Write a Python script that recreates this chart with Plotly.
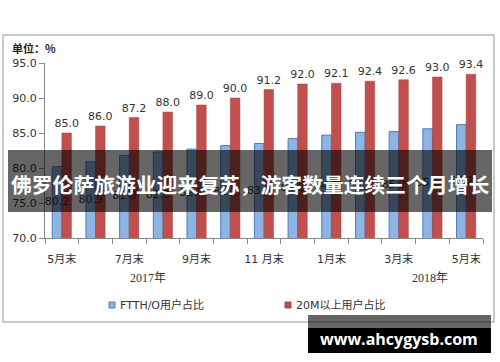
import plotly.graph_objects as go

months = ["5月末", "6月末", "7月末", "8月末", "9月末", "10月末", "11 月末",
          "12月末", "1月末", "2月末", "3月末", "4月末", "5月末"]
ftth = [80.2, 80.9, 81.8, 82.3, 82.7, 83.2, 83.5, 84.2, 84.7, 85.1, 85.2, 85.6, 86.2]
m20 = [85.0, 86.0, 87.2, 88.0, 89.0, 90.0, 91.2, 92.0, 92.1, 92.4, 92.6, 93.0, 93.4]
series_names = ["FTTH/O用户占比", "20M以上用户占比"]
series_colors = ["#8DB4E2", "#C0504D"]
series_edges = ["#4A7EBB", "#A94442"]
years = ["2017年", "2018年"]
y_ticks = [70, 75, 80, 85, 90, 95]

x = list(range(len(months)))
y_min, y_max = y_ticks[0], y_ticks[-1]
BARGAP = 0.43

W, H = 500, 362
L, R, T, B = 45, 483, 63, 238
pw, ph = R - L, B - T


def px(xp):
    return (xp - L) / pw


def py(yp):
    return (B - yp) / ph


fig = go.Figure()
fig.add_trace(go.Bar(
    x=x, y=ftth, name=series_names[0],
    marker=dict(color=series_colors[0], line=dict(color=series_edges[0], width=1)),
    hoverinfo="skip",
))
fig.add_trace(go.Bar(
    x=x, y=m20, name=series_names[1],
    marker=dict(color=series_colors[1], line=dict(color=series_edges[1], width=0.5)),
    text=[f"{v:.1f}" for v in m20], textposition="outside", textangle=0,
    constraintext="none", cliponaxis=False,
    textfont=dict(size=11, color="#333333", family="DejaVu Sans"),
    hoverinfo="skip",
))
# FTTH/O value labels, centred in the blue bars (blue bar sits left of centre)
blue_offset = (1 - BARGAP) / 4
fig.add_trace(go.Scatter(
    x=[i - blue_offset for i in x], y=[(y_min + v) / 2 for v in ftth],
    mode="text", text=[f"{v:.1f}" for v in ftth], textposition="middle center",
    textfont=dict(size=11, color="#333333", family="DejaVu Sans"),
    showlegend=False, hoverinfo="skip", cliponaxis=False,
))

fig.update_layout(
    width=W, height=H,
    margin=dict(l=L, r=W - R, t=T, b=H - B),
    paper_bgcolor="white", plot_bgcolor="white",
    barmode="group", bargap=BARGAP, bargroupgap=0,
    font=dict(family="DejaVu Sans, Noto Sans CJK SC", size=11, color="#333333"),
    showlegend=False,
)

fig.update_yaxes(
    range=[y_min, y_max], tickvals=y_ticks, tickformat=".1f",
    ticks="outside", ticklen=5, tickcolor="#888888",
    showline=True, linecolor="#888888", linewidth=1,
    showgrid=False, zeroline=False,
    tickfont=dict(size=11, color="#333333"),
)
fig.update_xaxes(
    range=[-0.5, len(months) - 0.5],
    tickvals=x[::2], ticktext=months[::2],
    ticks="outside", ticklen=5, tickcolor="rgba(0,0,0,0)",
    ticklabelstandoff=6,
    minor=dict(tickvals=[i - 0.5 for i in range(len(months) + 1)], ticks="outside",
               ticklen=5, tickcolor="#888888"),
    showline=True, linecolor="#888888", linewidth=1,
    showgrid=False, zeroline=False,
    tickfont=dict(size=11, color="#333333", family="DejaVu Sans, Noto Sans CJK SC"),
)

# chart frame
fig.add_shape(type="rect", xref="paper", yref="paper",
              x0=px(3), x1=px(494), y0=py(322), y1=py(35),
              line=dict(color="#B4BCBC", width=1.5), layer="below")

# legend (drawn manually to match the compact Excel-style legend)
for name, col, edge, sx in zip(series_names, series_colors, series_edges, [112, 288]):
    fig.add_shape(type="rect", xref="paper", yref="paper",
                  x0=px(sx - 3), x1=px(sx + 3), y0=py(308), y1=py(302),
                  fillcolor=col, line=dict(color=edge, width=1))
    fig.add_annotation(text=name, xref="paper", yref="paper",
                       x=px(sx + 6), y=py(305), xanchor="left", yanchor="middle",
                       showarrow=False,
                       font=dict(size=11, color="#333333",
                                 family="DejaVu Sans, Noto Sans CJK SC"))

fig.add_annotation(text="<b>单位：%</b>", xref="paper", yref="paper",
                   x=px(10), y=py(48), xanchor="left", yanchor="middle",
                   showarrow=False, font=dict(size=11, color="#222222",
                                              family="Noto Sans CJK SC"))
for name, xp in zip(years, [148, 430]):
    fig.add_annotation(text=name, xref="paper", yref="paper",
                       x=px(xp), y=py(278), xanchor="center", yanchor="middle",
                       showarrow=False, font=dict(size=12, color="#333333",
                                                  family="Liberation Serif, Noto Sans CJK SC"))

# overlay banner
fig.add_shape(type="rect", xref="paper", yref="paper",
              x0=px(8), x1=px(492), y0=py(212), y1=py(150),
              fillcolor="rgba(0,0,0,0.6)", line=dict(width=0), layer="above")
fig.add_annotation(text="<b>佛罗伦萨旅游业迎来复苏，游客数量连续三个月增长</b>",
                   xref="paper", yref="paper", x=px(250), y=py(184),
                   xanchor="center", yanchor="middle", showarrow=False,
                   font=dict(size=20.8, color="white", family="Noto Sans CJK SC"))

# watermark
fig.add_shape(type="rect", xref="paper", yref="paper",
              x0=px(308), x1=px(491), y0=py(328), y1=py(315),
              fillcolor="rgba(0,0,0,0.6)", line=dict(width=0), layer="above")
fig.add_shape(type="rect", xref="paper", yref="paper",
              x0=px(308), x1=px(491), y0=py(353), y1=py(328),
              fillcolor="black", line=dict(width=0), layer="above")
fig.add_annotation(text="<b>www.ahcygysb.com</b>", xref="paper", yref="paper",
                   x=px(399), y=py(339), xanchor="center", yanchor="middle",
                   showarrow=False, font=dict(size=16, color="white", family="Open Sans"))

fig.write_html("out.html", config={"displayModeBar": False},
               post_script="document.body.style.margin='0';document.body.style.padding='0';")
